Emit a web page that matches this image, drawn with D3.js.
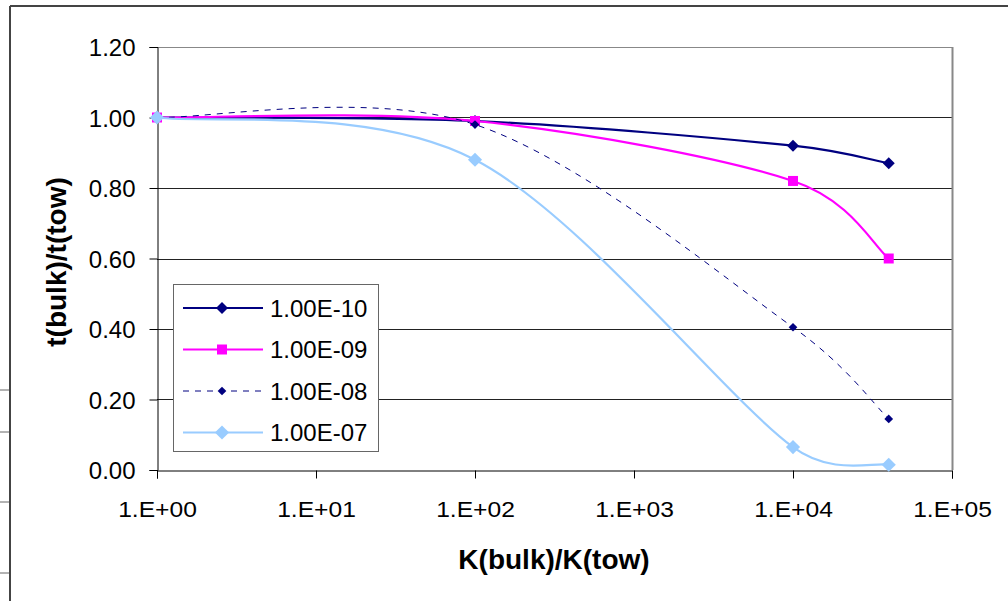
<!DOCTYPE html>
<html><head><meta charset="utf-8">
<script src="https://cdn.jsdelivr.net/npm/d3@7"></script>
<style>body{margin:0;background:#fff}svg{display:block;font-family:"Liberation Sans",Arial,sans-serif}</style>
</head><body>
<svg id="c" width="1008" height="601"></svg>
<script>
const xValues = [1, 100, 10000, 40000];
const seriesNames = ["1.00E-10", "1.00E-09", "1.00E-08", "1.00E-07"];
const s1e10 = [1.00, 0.99, 0.92, 0.87];
const s1e09 = [1.00, 0.99, 0.82, 0.60];
const s1e08 = [1.00, 0.98, 0.405, 0.145];
const s1e07 = [1.00, 0.88, 0.065, 0.015];
const yTicks = [0, 0.2, 0.4, 0.6, 0.8, 1.0, 1.2];
const xTicks = [1, 10, 100, 1000, 10000, 100000];
const xTickLabels = ["1.E+00", "1.E+01", "1.E+02", "1.E+03", "1.E+04", "1.E+05"];

const FONT = '"Liberation Sans",Arial,sans-serif';
const svg = d3.select("#c");
const L = 157, R = 952, T = 47, B = 470;
const x = d3.scaleLog().domain([1, 100000]).range([L, R]);
const y = d3.scaleLinear().domain([0, 1.2]).range([B, T]);

// spreadsheet artifacts and chart frame
[390, 432, 502, 573].forEach(v => svg.append("line").attr("x1", 0).attr("x2", 9).attr("y1", v).attr("y2", v).attr("stroke", "#666").attr("stroke-width", 1));
svg.append("line").attr("x1", 10).attr("x2", 1008).attr("y1", 6).attr("y2", 6).attr("stroke", "#444").attr("stroke-width", 2);
svg.append("line").attr("x1", 10).attr("x2", 10).attr("y1", 6).attr("y2", 601).attr("stroke", "#444").attr("stroke-width", 2);

// gridlines
svg.append("g").selectAll("line").data(yTicks.filter(d => d > 0)).join("line")
  .attr("x1", L).attr("x2", R).attr("y1", d => Math.round(y(d)) + 0.5).attr("y2", d => Math.round(y(d)) + 0.5)
  .attr("stroke", d => d === 1.2 ? "#888" : "#222").attr("stroke-width", 1);
svg.append("line").attr("x1", R + 0.5).attr("x2", R + 0.5).attr("y1", T).attr("y2", B).attr("stroke", "#888").attr("stroke-width", 2);

// axes
const yAxis = d3.axisLeft(y).tickValues(yTicks).tickFormat(d3.format(".2f")).tickSize(8).tickPadding(14);
const gy = svg.append("g").attr("transform", `translate(${L + 0.5},0)`).call(yAxis);
const xAxis = d3.axisBottom(x).tickValues(xTicks).tickFormat((d, i) => xTickLabels[i]).tickSize(8).tickPadding(14);
const gx = svg.append("g").attr("transform", `translate(0,${B + 0.5})`).call(xAxis);
[gx, gy].forEach(g => {
  g.select(".domain").attr("stroke", "#000");
  g.selectAll(".tick line").attr("stroke", "#000");
  g.selectAll("text").attr("font-size", 24).attr("fill", "#000").attr("font-family", FONT);
});
gy.selectAll("text").attr("dy", "0.36em");
gx.selectAll("text").attr("y", 47).attr("dy", 0).attr("font-size", 22).attr("transform", "scale(1.12,1)");

// titles
svg.append("text").attr("x", 554).attr("y", 569).attr("text-anchor", "middle")
  .attr("font-size", 28).attr("font-weight", "bold").attr("fill", "#000").text("K(bulk)/K(tow)");
svg.append("text").attr("transform", "translate(66,262) rotate(-90)").attr("text-anchor", "middle")
  .attr("font-size", 28).attr("font-weight", "bold").attr("fill", "#000").text("t(bulk)/t(tow)");

const series = [
  {name: seriesNames[0], vals: s1e10, color: "#000080", dash: null, sym: d3.symbolSquare, rot: 45, size: 72},
  {name: seriesNames[1], vals: s1e09, color: "#FF00FF", dash: null, sym: d3.symbolSquare, rot: 0, size: 100},
  {name: seriesNames[2], vals: s1e08, color: "#000080", dash: "6,6", sym: d3.symbolSquare, rot: 45, size: 38, width: 1},
  {name: seriesNames[3], vals: s1e07, color: "#99CCFF", dash: null, sym: d3.symbolSquare, rot: 45, size: 100}
];

// Excel-style smoothed line (Bezier, control length limited by segment length)
function excelSmooth(pts) {
  const p = pts.map(d => [x(d[0]), y(d[1])]);
  const dist = (a, b) => Math.hypot(a[0] - b[0], a[1] - b[1]);
  const path = d3.path();
  path.moveTo(p[0][0], p[0][1]);
  for (let i = 0; i < p.length - 1; i++) {
    const P0 = p[Math.max(i - 1, 0)], P1 = p[i], P2 = p[i + 1], P3 = p[Math.min(i + 2, p.length - 1)];
    const d12 = dist(P1, P2), d02 = dist(P0, P2), d13 = dist(P1, P3);
    const f1 = d02 > 0 ? Math.min(1 / 6, d12 / (2 * d02)) : 0;
    const f2 = d13 > 0 ? Math.min(1 / 6, d12 / (2 * d13)) : 0;
    const c1 = [P1[0] + (P2[0] - P0[0]) * f1, P1[1] + (P2[1] - P0[1]) * f1];
    const c2 = [P2[0] - (P3[0] - P1[0]) * f2, P2[1] - (P3[1] - P1[1]) * f2];
    path.bezierCurveTo(c1[0], c1[1], c2[0], c2[1], P2[0], P2[1]);
  }
  return path.toString();
}

series.forEach(s => {
  const pts = xValues.map((xv, i) => [xv, s.vals[i]]);
  svg.append("path").attr("d", excelSmooth(pts)).attr("fill", "none")
    .attr("stroke", s.color).attr("stroke-width", s.width || 2.2).attr("stroke-dasharray", s.dash);
  svg.append("g").selectAll("path").data(pts).join("path")
    .attr("transform", d => `translate(${x(d[0])},${y(d[1])}) rotate(${s.rot})`)
    .attr("d", d3.symbol().type(s.sym).size(s.size)).attr("fill", s.color);
});

// legend
const lg = svg.append("g");
lg.append("rect").attr("x", 173.5).attr("y", 284.5).attr("width", 205).attr("height", 167)
  .attr("fill", "#fff").attr("stroke", "#666").attr("stroke-width", 1);
series.forEach((s, i) => {
  const yy = 308 + i * 41.5;
  lg.append("line").attr("x1", 183).attr("x2", 263).attr("y1", yy).attr("y2", yy)
    .attr("stroke", s.color).attr("stroke-width", s.width || 2.2).attr("stroke-dasharray", s.dash);
  lg.append("path").attr("transform", `translate(222,${yy}) rotate(${s.rot})`)
    .attr("d", d3.symbol().type(s.sym).size(s.size)).attr("fill", s.color);
  lg.append("text").attr("x", 270).attr("y", yy).attr("dy", "0.36em").attr("font-size", 24).attr("fill", "#000").attr("font-family", FONT).text(s.name);
});
</script>
</body></html>
